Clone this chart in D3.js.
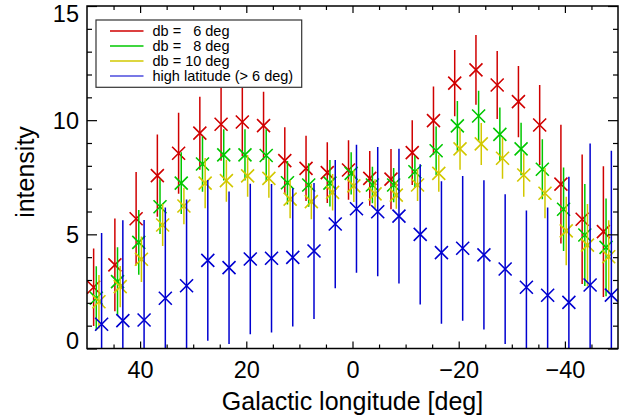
<!DOCTYPE html>
<html><head><meta charset="utf-8">
<script src="https://cdn.jsdelivr.net/npm/d3@7"></script>
<style>
html,body{margin:0;padding:0;background:#fff;}
text{font-family:"Liberation Sans",Arial,Helvetica,sans-serif;fill:#000;}
</style></head>
<body>
<svg id="chart" width="632" height="418"></svg>
<script>
// Galactic longitude bin centres (deg)
const longitudes = [48,44,40,36,32,28,24,20,16,12,8,4,0,-4,-8,-12,-16,-20,-24,-28,-32,-36,-40,-44,-48];

const seriesNames = ["db =   6 deg","db =   8 deg","db = 10 deg","high latitude (> 6 deg)"];
const seriesColors = ["#d00000","#00c800","#d2c800","#0000d0"];
const seriesShift = [0.75,0.25,-0.25,-0.75]; // small horizontal shift (deg) per series

const db6  = [2.68,3.66,5.68,7.57,8.55,9.43,9.82,9.92,9.76,8.23,7.89,7.70,7.82,7.45,7.42,8.58,9.98,11.62,12.20,11.54,10.81,9.79,7.20,5.66,5.12];
const db6Err = [1.70,2.03,2.05,1.80,1.77,1.60,1.60,1.50,1.49,1.46,1.43,1.33,1.30,1.20,1.32,1.42,1.49,1.45,1.53,1.49,1.56,1.75,2.60,2.84,2.86];

const db8  = [2.20,2.93,4.65,6.21,7.24,8.08,8.48,8.48,8.45,7.26,7.16,7.24,7.67,7.16,7.16,7.74,8.66,9.75,10.18,9.38,8.74,7.85,6.10,4.97,4.43];
const db8Err = [1.40,1.50,1.42,1.20,1.35,1.22,1.12,1.12,1.15,0.95,0.95,1.02,0.92,0.80,0.75,0.70,1.06,1.09,1.11,1.17,1.15,1.31,1.83,2.23,2.14];

const db10 = [2.05,2.71,3.91,5.41,6.24,7.24,7.35,7.56,7.45,6.54,6.43,6.84,7.12,6.77,6.72,7.16,7.67,8.74,8.96,8.33,7.60,6.80,5.15,4.53,4.02];
const db10Err = [1.17,0.90,1.00,0.92,0.80,1.10,0.92,0.91,0.85,0.84,0.77,0.80,0.70,0.64,0.60,0.70,0.80,0.91,0.92,0.90,0.95,1.10,1.50,1.80,1.60];

const highLat = [1.06,1.22,1.25,2.20,2.75,3.86,3.54,3.92,3.95,3.99,4.27,5.45,6.12,5.99,5.80,5.00,4.20,4.39,4.10,3.48,2.68,2.33,2.02,2.78,2.34];
const highLatErr = [4.00,4.40,4.38,3.98,3.78,3.52,3.34,3.30,3.25,3.03,2.98,2.81,2.80,2.83,2.95,3.07,3.12,3.17,3.27,3.28,3.36,3.84,5.50,6.20,6.32];

const xMajorTicks = [40,20,0,-20,-40];
const xMinorTicks = [45,35,30,25,15,10,5,-5,-10,-15,-25,-30,-35,-45];
const yMajorTicks = [0,5,10,15];
const yMinorTicks = [1,2,3,4,6,7,8,9,11,12,13,14];

const xLabel = "Galactic longitude [deg]";
const yLabel = "intensity";

const seriesValues = [db6, db8, db10, highLat];
const seriesErrors = [db6Err, db8Err, db10Err, highLatErr];

const W = 632, H = 418;
const margin = {left:87, right:14, top:6, bottom:69.5};
const svg = d3.select("#chart");
const x = d3.scaleLinear().domain([50,-50]).range([margin.left, W - margin.right]);
const y = d3.scaleLinear().domain([0,15]).range([H - margin.bottom, margin.top]);

svg.append("defs").append("clipPath").attr("id","clip")
  .append("rect").attr("x",margin.left).attr("y",margin.top)
  .attr("width",W-margin.left-margin.right).attr("height",H-margin.top-margin.bottom);

const plot = svg.append("g").attr("clip-path","url(#clip)");

seriesValues.forEach((vals, s) => {
  const g = plot.append("g");
  const col = seriesColors[s];
  const pts = vals.map((v,i)=>({l:longitudes[i]+seriesShift[s], v:v, e:seriesErrors[s][i]}));
  g.selectAll("line.err").data(pts).join("line").attr("class","err")
    .attr("x1",d=>x(d.l)).attr("x2",d=>x(d.l))
    .attr("y1",d=>y(d.v-d.e)).attr("y2",d=>y(d.v+d.e))
    .attr("stroke",col).attr("stroke-width",1.5);
  const r = 6.5;
  g.selectAll("path.mk").data(pts).join("path").attr("class","mk")
    .attr("d",d=>{const cx=x(d.l), cy=y(d.v);
      return `M${cx-r},${cy-r}L${cx+r},${cy+r}M${cx-r},${cy+r}L${cx+r},${cy-r}`;})
    .attr("stroke",col).attr("stroke-width",1.6).attr("fill","none");
});

// axes
const axisFont = 23.5;
function styleAxis(g){
  g.select(".domain").remove();
  g.selectAll("line").attr("stroke","#000").attr("stroke-width",1.2);
  g.selectAll("text").style("font-size",axisFont+"px").attr("fill","#000");
}
const yb = H - margin.bottom;
const xr = W - margin.right;
svg.append("g").attr("transform",`translate(0,${yb})`)
  .call(d3.axisBottom(x).tickValues(xMajorTicks).tickSize(-7).tickPadding(13).tickFormat(d=>d<0?"\u2212"+(-d):d))
  .call(styleAxis);
svg.append("g").attr("transform",`translate(0,${yb})`)
  .call(d3.axisBottom(x).tickValues(xMinorTicks).tickSize(-4).tickFormat(""))
  .call(styleAxis);
svg.append("g").attr("transform",`translate(0,${margin.top})`)
  .call(d3.axisTop(x).tickValues(xMajorTicks).tickSize(-7).tickFormat(""))
  .call(styleAxis);
svg.append("g").attr("transform",`translate(0,${margin.top})`)
  .call(d3.axisTop(x).tickValues(xMinorTicks).tickSize(-4).tickFormat(""))
  .call(styleAxis);
const yAx = svg.append("g").attr("transform",`translate(${margin.left},0)`)
  .call(d3.axisLeft(y).tickValues(yMajorTicks).tickSize(-10).tickPadding(8))
  .call(styleAxis);
yAx.selectAll(".tick text").attr("dy",d=> d===15? "0.66em" : d===0 ? "0.02em" : "0.34em");
svg.append("g").attr("transform",`translate(${margin.left},0)`)
  .call(d3.axisLeft(y).tickValues(yMinorTicks).tickSize(-5).tickFormat(""))
  .call(styleAxis);
svg.append("g").attr("transform",`translate(${xr},0)`)
  .call(d3.axisRight(y).tickValues(yMajorTicks).tickSize(-10).tickFormat(""))
  .call(styleAxis);
svg.append("g").attr("transform",`translate(${xr},0)`)
  .call(d3.axisRight(y).tickValues(yMinorTicks).tickSize(-5).tickFormat(""))
  .call(styleAxis);

// frame
svg.append("rect").attr("x",margin.left).attr("y",margin.top)
  .attr("width",W-margin.left-margin.right).attr("height",H-margin.top-margin.bottom)
  .attr("fill","none").attr("stroke","#000").attr("stroke-width",1.5);

// axis titles
svg.append("text").attr("x",(margin.left+xr)/2).attr("y",410)
  .attr("text-anchor","middle").style("font-size","25px").text(xLabel);
svg.append("text").attr("transform",`translate(34,172) rotate(-90)`)
  .attr("text-anchor","middle").style("font-size","25px").text(yLabel);

// legend
const lg = svg.append("g");
lg.append("rect").attr("x",96).attr("y",20).attr("width",205.7).attr("height",67.3)
  .attr("fill","#fff").attr("stroke","#333").attr("stroke-width",1.2);
seriesNames.forEach((nm,i)=>{
  const yy = 31 + i*15;
  lg.append("line").attr("x1",110).attr("x2",143.5).attr("y1",yy).attr("y2",yy)
    .attr("stroke",seriesColors[i]).attr("stroke-width",1.3).attr("opacity", i===3?0.7:1);
  lg.append("text").attr("x",152.5).attr("y",yy+5.2).attr("xml:space","preserve")
    .style("white-space","pre").style("font-size","14.5px").text(nm);
});
</script>
</body></html>
